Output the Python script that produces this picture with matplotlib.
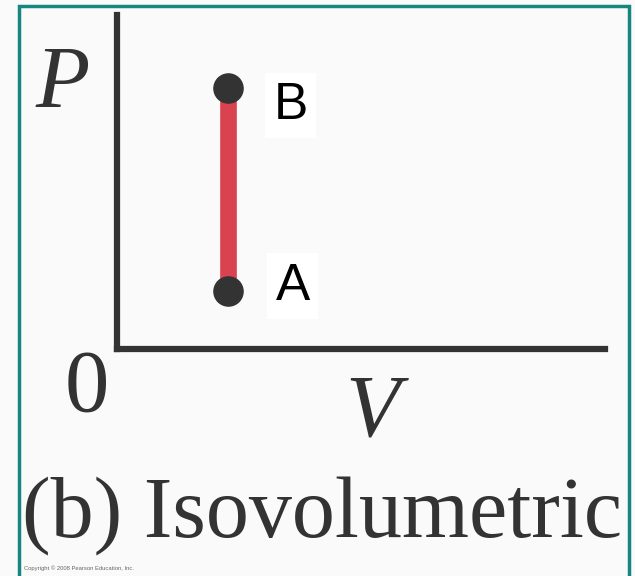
import matplotlib
matplotlib.use('Agg')
import matplotlib.pyplot as plt
from matplotlib.patches import Rectangle

# isovolumetric process: same volume, pressure rises from A to B
states = ['A', 'B']
volume = [2.27, 2.27]
pressure = [1.73, 7.80]

ink = '#333333'
red = '#d9434f'
teal = '#16877f'
serif = 'Liberation Serif'

fig = plt.figure(figsize=(6.35, 5.76), dpi=100)
fig.patch.set_facecolor('#fafafa')

# teal frame round the picture
fig.patches.append(Rectangle((19 / 635, -0.05), 610 / 635, 1.05 - 6 / 576,
                             transform=fig.transFigure, fill=False,
                             edgecolor=teal, linewidth=2.5))

ax = fig.add_axes([117 / 635, 1 - 349 / 576, 488 / 635, 334 / 576])
ax.set_facecolor('none')
ax.set_xlim(0, 10)
ax.set_ylim(0, 10)
for side in ['top', 'right']:
    ax.spines[side].set_visible(False)
for side in ['left', 'bottom']:
    ax.spines[side].set_linewidth(4.5)
    ax.spines[side].set_color(ink)
    ax.spines[side].set_capstyle('projecting')
ax.set_xticks([])
ax.set_yticks([])

ax.plot(volume, pressure, color=red, linewidth=12, solid_capstyle='butt', zorder=2)
ax.plot(volume, pressure, 'o', color=ink, markersize=21, zorder=3)

offsets = {'A': (65, 5), 'B': (63, -17)}
for s, v, p in zip(states, volume, pressure):
    ax.annotate(s, (v, p), xytext=offsets[s], textcoords='offset pixels',
                ha='center', va='center', fontsize=37, family='Liberation Sans',
                color='black',
                bbox=dict(facecolor='white', edgecolor='none', pad=6))

fig.text(63 / 635, 1 - 85 / 576, 'P', family=serif, style='italic',
         fontsize=64, color=ink, ha='center', va='center')
fig.text(87 / 635, 1 - 389 / 576, '0', family=serif,
         fontsize=64, color=ink, ha='center', va='center')
fig.text(372 / 635, 1 - 414 / 576, 'V', family=serif, style='italic',
         fontsize=64, color=ink, ha='center', va='center')
fig.text(322 / 635, 1 - 537 / 576, '(b) Isovolumetric', family=serif,
         fontsize=62, color=ink, ha='center', va='baseline')
fig.text(24 / 635, 1 - 570 / 576, 'Copyright \u00a9 2008 Pearson Education, Inc.',
         family='Liberation Sans', fontsize=4.2, color='#666666',
         ha='left', va='baseline')

fig.savefig('out.png', dpi=100, facecolor=fig.get_facecolor())
